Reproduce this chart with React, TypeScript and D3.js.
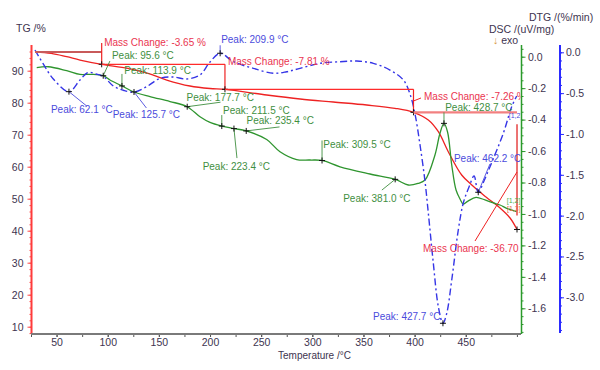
import React, { useEffect, useRef } from 'react'
import * as d3 from 'd3'

type Pt = [number, number]

// TG: temperature (°C), mass (%)
const tgCurve: Pt[] = [
  [28.9, 95.84], [44.8, 95.44], [59.9, 94.38], [72.9, 93.34], [94.1, 92.0], [119.8, 90.75],
  [139.4, 89.19], [157.7, 87.09], [180.4, 85.22], [200.0, 84.44], [214.6, 84.19], [255.4, 82.41],
  [288.1, 81.16], [320.5, 80.22], [353.2, 79.28], [380.8, 78.25], [398.9, 77.0], [413.4, 74.59],
  [423.2, 70.94], [432.9, 64.69], [446.0, 57.41], [457.0, 53.97], [469.8, 50.53], [483.5, 47.09],
  [493.3, 43.97], [500.1, 40.38]
]

// DSC: temperature (°C), uV/mg
const dscCurve: Pt[] = [
  [30.6, -0.07], [41.9, -0.064], [59.9, -0.089], [72.9, -0.113], [84.6, -0.112], [95.6, -0.121],
  [102.2, -0.148], [113.9, -0.186], [125.0, -0.223], [141.3, -0.254], [160.9, -0.285], [177.7, -0.318],
  [190.2, -0.382], [200.0, -0.418], [211.5, -0.441], [223.4, -0.457], [235.4, -0.472], [255.4, -0.527],
  [268.4, -0.604], [284.7, -0.654], [297.7, -0.657], [309.5, -0.66], [327.1, -0.7], [356.4, -0.746],
  [381.0, -0.78], [393.8, -0.816], [403.3, -0.806], [410.2, -0.784], [419.9, -0.625], [424.8, -0.487],
  [428.7, -0.424], [432.2, -0.479], [436.3, -0.689], [440.5, -0.848], [444.4, -0.905], [447.6, -0.937],
  [452.2, -0.918], [460.0, -0.895], [468.8, -0.911], [476.9, -0.93], [483.5, -0.943], [490.0, -0.964],
  [499.8, -0.986]
]

// DTG: temperature (°C), %/min
const dtgCurve: Pt[] = [
  [28.9, 0.028], [37.0, -0.143], [46.8, -0.327], [62.1, -0.482], [72.9, -0.339], [80.7, -0.247],
  [88.5, -0.266], [95.7, -0.296], [105.5, -0.413], [115.9, -0.468], [125.7, -0.486], [138.1, -0.421],
  [151.1, -0.318], [163.8, -0.302], [177.2, -0.327], [190.2, -0.278], [200.0, -0.119], [209.9, -0.012],
  [222.8, -0.115], [242.3, -0.196], [261.9, -0.257], [275.0, -0.238], [288.0, -0.196], [307.5, -0.135],
  [327.1, -0.115], [343.4, -0.107], [359.6, -0.135], [375.9, -0.217], [389.0, -0.339], [395.5, -0.511],
  [400.4, -0.756], [405.3, -1.135], [410.2, -1.584], [413.4, -1.968], [418.3, -2.584], [423.2, -3.115],
  [427.7, -3.318], [431.4, -3.196], [436.3, -2.788], [442.7, -2.176], [447.6, -1.845], [453.2, -1.649],
  [458.1, -1.515], [462.2, -1.714], [467.8, -1.576], [473.7, -1.401], [486.7, -0.992], [494.9, -0.666],
  [499.8, -0.535]
]

const dscPeaks = [95.6, 113.9, 177.7, 211.5, 223.4, 235.4, 309.5, 381.0, 428.7]
const dtgPeaks = [62.1, 125.7, 209.9, 427.7, 462.2]
const stepBounds = [28.9, 94.1, 214.6, 398.9, 500.1]
const massChanges = [-3.65, -7.81, -7.26, -36.7]

const tempTicks = [50, 100, 150, 200, 250, 300, 350, 400, 450]
const tgTicks = [10, 20, 30, 40, 50, 60, 70, 80, 90]
const dscTicks = [0, -0.2, -0.4, -0.6, -0.8, -1.0, -1.2, -1.4, -1.6]
const dtgTicks = [0, -0.5, -1.0, -1.5, -2.0, -2.5, -3.0]

// label placement relative to the marker: [text dx, text dy, leader dx, leader dy]
const dscLabelLayout = [
  [8.7, -17.2, 6.7, -14.7], [2.3, -12.4, 0, -12], [-0.7, -6, 33.3, -4.5], [1.3, -12.5, 0, -11],
  [-31.3, 41, 3, 29.5], [0.3, -6.5, 33.3, -4], [1.3, -12, 0, -20], [-52, 22.2, -13.3, 10.7],
  [1.2, -12.8, 0, -11]
]
const dtgLabelLayout = [
  [-18, 21.8, 17.7, 14.3], [-21.3, 26.5, 12.4, 16], [1, -9.8, 0, -8], [-69.9, -2.8, 0, 0],
  [-24.3, -29.8, 11.7, -28.3]
]

const TEXT = '#40344f'
const RED = '#ee2222'
const GREEN = '#2f952f'
const BLUE = '#3535e6'
const RED_TXT = '#ea3550'
const GREEN_TXT = '#3f8f3f'
const BLUE_TXT = '#4b4bdc'
const FONT = '"Liberation Sans", Arial, sans-serif'

const App: React.FC = () => {
  const ref = useRef<SVGSVGElement | null>(null)

  useEffect(() => {
    if (!ref.current) {
      return
    }
    const svg = d3.select(ref.current)
    svg.selectAll('*').remove()
    svg.attr('font-family', FONT)

    const top = 45
    const bottom = 334
    const x = d3.scaleLinear().domain([25, 504]).range([31, 521])
    const yTG = d3.scaleLinear().domain([90, 10]).range([70.7, 326.7])
    const yDSC = d3.scaleLinear().domain([0, -1.6]).range([56.7, 308.3])
    const yDTG = d3.scaleLinear().domain([0, -3]).range([52.3, 297.3])
    const dscX = 521.5
    const dtgX = 560

    svg.append('defs').append('clipPath').attr('id', 'plot-clip')
      .append('rect').attr('x', 31).attr('y', 0).attr('width', 489.5).attr('height', bottom)

    const styleAxis = (g: d3.Selection<SVGGElement, unknown, null, undefined>, color: string) => {
      g.select('.domain').remove()
      g.selectAll('line').attr('stroke', color).attr('stroke-width', 1)
      g.selectAll('text').attr('fill', TEXT).attr('font-size', 10.5).attr('font-family', FONT)
    }
    const fmt1 = (d: d3.NumberValue) => (+d).toFixed(1)

    // TG axis (left)
    const tgMinor = svg.append('g').attr('transform', 'translate(31.5,0)')
      .call(d3.axisLeft(yTG).tickValues(d3.range(8, 98, 2)).tickSize(2).tickFormat(() => ''))
    styleAxis(tgMinor, '#ff4a4a')
    const tgAxis = svg.append('g').attr('transform', 'translate(31.5,0)')
      .call(d3.axisLeft(yTG).tickValues(tgTicks).tickSize(4).tickPadding(4).tickFormat(d3.format('d')))
    styleAxis(tgAxis, '#ff4a4a')
    svg.append('line').attr('x1', 31.5).attr('x2', 31.5).attr('y1', top).attr('y2', bottom)
      .attr('stroke', '#ff3b3b').attr('stroke-width', 2)

    // temperature axis
    const xMinor = svg.append('g').attr('transform', `translate(0,${bottom})`)
      .call(d3.axisBottom(x).tickValues(d3.range(25, 504, 25)).tickSize(3).tickFormat(() => ''))
    styleAxis(xMinor, '#555')
    const xAxis = svg.append('g').attr('transform', `translate(0,${bottom})`)
      .call(d3.axisBottom(x).tickValues(tempTicks).tickSize(3).tickPadding(2))
    styleAxis(xAxis, '#555')
    svg.append('line').attr('x1', 31).attr('x2', 521).attr('y1', bottom).attr('y2', bottom)
      .attr('stroke', '#7a7a7a').attr('stroke-width', 2)

    // DSC axis
    const dscMinor = svg.append('g').attr('transform', `translate(${dscX},0)`)
      .call(d3.axisRight(yDSC).tickValues(d3.range(-35, 2).map((i) => i * 0.05)).tickSize(2).tickFormat(() => ''))
    styleAxis(dscMinor, GREEN)
    const dscAxis = svg.append('g').attr('transform', `translate(${dscX},0)`)
      .call(d3.axisRight(yDSC).tickValues(dscTicks).tickSize(4).tickPadding(2.5).tickFormat(fmt1))
    styleAxis(dscAxis, GREEN)
    svg.append('line').attr('x1', dscX).attr('x2', dscX).attr('y1', top).attr('y2', bottom)
      .attr('stroke', '#2a9a2a').attr('stroke-width', 1.5)

    // DTG axis
    const dtgMinor = svg.append('g').attr('transform', `translate(${dtgX},0)`)
      .call(d3.axisRight(yDTG).tickValues(d3.range(-34, 1).map((i) => i * 0.1)).tickSize(2).tickFormat(() => ''))
    styleAxis(dtgMinor, '#2b2bff')
    const dtgAxis = svg.append('g').attr('transform', `translate(${dtgX},0)`)
      .call(d3.axisRight(yDTG).tickValues(dtgTicks).tickSize(4).tickPadding(2).tickFormat(fmt1))
    styleAxis(dtgAxis, '#2b2bff')
    svg.append('line').attr('x1', dtgX).attr('x2', dtgX).attr('y1', top).attr('y2', 333)
      .attr('stroke', '#2b2bff').attr('stroke-width', 2)

    // axis titles
    const title = (tx: number, ty: number, s: string, anchor = 'start') =>
      svg.append('text').attr('x', tx).attr('y', ty).attr('text-anchor', anchor)
        .attr('font-size', 10.5).attr('fill', TEXT).text(s)
    title(16, 32, 'TG /%')
    title(529, 21, 'DTG /(%/min)')
    title(489, 33, 'DSC /(uV/mg)')
    const exo = title(493, 43.5, '')
    exo.append('tspan').attr('fill', '#d89a40').text('↓')
    exo.append('tspan').text(' exo')
    title(314.5, 359, 'Temperature /°C', 'middle').attr('font-size', 10)

    // curves
    const curveOf = (ys: d3.ScaleLinear<number, number>) =>
      d3.line<Pt>().x((d) => x(d[0])).y((d) => ys(d[1])).curve(d3.curveCatmullRom.alpha(0.5))

    svg.append('path').attr('d', curveOf(yTG)(tgCurve)).attr('fill', 'none')
      .attr('stroke', RED).attr('stroke-width', 1.3)
    svg.append('path').attr('d', curveOf(yDSC)(dscCurve)).attr('fill', 'none')
      .attr('stroke', GREEN).attr('stroke-width', 1.3)
    svg.append('path').attr('d', curveOf(yDTG)(dtgCurve)).attr('fill', 'none')
      .attr('stroke', BLUE).attr('stroke-width', 1.4).attr('stroke-dasharray', '7,3,2,3')

    const notes = svg.append('g').attr('clip-path', 'url(#plot-clip)').attr('font-size', 10)
    const seg = (x1: number, y1: number, x2: number, y2: number, color: string, w = 0.9) =>
      notes.append('line').attr('x1', x1).attr('y1', y1).attr('x2', x2).attr('y2', y2)
        .attr('stroke', color).attr('stroke-width', w)
    const cross = (cx: number, cy: number) =>
      notes.append('path').attr('d', `M${cx - 3},${cy}H${cx + 3}M${cx},${cy - 3}V${cy + 3}`)
        .attr('stroke', '#111').attr('stroke-width', 1)
    const label = (tx: number, ty: number, s: string, color: string) =>
      notes.append('text').attr('x', tx).attr('y', ty).attr('fill', color).text(s)

    // mass change brackets
    const tgAt = (t: number) => tgCurve.find((d) => d[0] === t)![1]
    const stepStyle = [
      { h: '#c85a5a', hw: 2, v: RED, vTop: -9, vBot: 0, lx: 2.5, ly: -6.3 },
      { h: '#ff2b2b', hw: 1.2, v: RED, vTop: 0, vBot: 0, lx: 3, ly: 0.5 },
      { h: '#ff2b2b', hw: 1.2, v: RED, vTop: 0, vBot: 0, lx: 10.5, ly: 10.5 },
      { h: '#f28080', hw: 2.2, v: '#e85050', vTop: 12, vBot: -14, lx: -94, ly: 139.5 }
    ]
    massChanges.forEach((change, i) => {
      const xa = x(stepBounds[i])
      const xb = x(stepBounds[i + 1])
      const ya = yTG(tgAt(stepBounds[i]))
      const yb = yTG(tgAt(stepBounds[i + 1]))
      const st = stepStyle[i]
      seg(xa, ya, xb, ya, st.h, st.hw)
      seg(xb, ya + st.vTop, xb, yb + st.vBot, st.v, i === 3 ? 1.6 : 1.2)
      cross(xb, yb)
      label(xb + st.lx, ya + st.ly, `Mass Change: ${change.toFixed(2)} %`, RED_TXT)
      if (i === 2) {
        seg(xb, ya + 11.7, xb + 7.5, ya + 8.7, RED, 1)
      }
      if (i === 3) {
        seg(xb - 42, ya + 128.7, xb, ya + 59.7, RED, 1)
      }
    })

    // peaks
    const peakNotes = (curve: Pt[], peaks: number[], layout: number[][], ys: d3.ScaleLinear<number, number>, color: string) => {
      peaks.forEach((t, i) => {
        const p = curve.find((d) => d[0] === t)!
        const px = x(p[0])
        const py = ys(p[1])
        const [tdx, tdy, ldx, ldy] = layout[i]
        if (ldx !== 0 || ldy !== 0) {
          seg(px, py, px + ldx, py + ldy, color)
        }
        cross(px, py)
        label(px + tdx, py + tdy, `Peak: ${t.toFixed(1)} °C`, color)
      })
    }
    peakNotes(dscCurve, dscPeaks, dscLabelLayout, yDSC, GREEN_TXT)
    peakNotes(dtgCurve, dtgPeaks, dtgLabelLayout, yDTG, BLUE_TXT)

    // segment tags at the curve ends
    const tag = (curve: Pt[], ys: d3.ScaleLinear<number, number>, dx: number, dy: number, s: string, color: string) => {
      const end = curve[curve.length - 1]
      notes.append('text').attr('x', x(end[0]) + dx).attr('y', ys(end[1]) + dy)
        .attr('font-size', 7).attr('fill', color).text(s)
    }
    tag(dscCurve, yDSC, -10, -9, '[1,2]', '#4caf50')
    tag(tgCurve, yTG, -10, -18, '[1,3]', '#e86a4a')
    tag(dtgCurve, yDTG, -8, 22, '[1,2]', BLUE_TXT)
  }, [])

  return (
    <svg
      ref={ref}
      width={600}
      height={370}
      style={{ position: 'absolute', left: 0, top: 0, background: '#ffffff' }}
      role="img"
      aria-label="TG DSC DTG"
    />
  )
}

export default App
